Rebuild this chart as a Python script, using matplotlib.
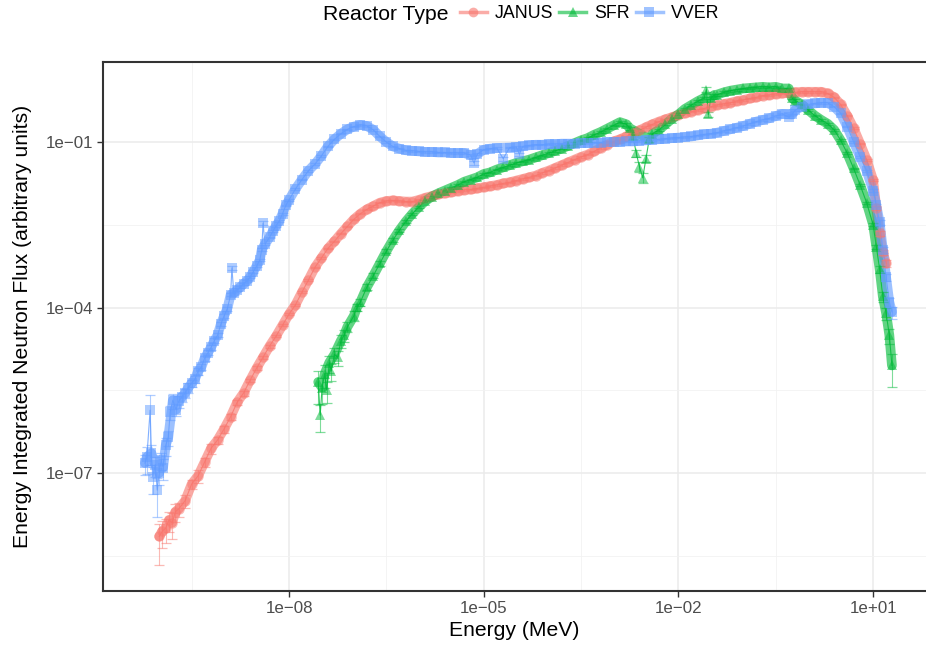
import numpy as np
import matplotlib
matplotlib.use("Agg")
import matplotlib.pyplot as plt
from matplotlib.lines import Line2D
from matplotlib.ticker import FixedLocator, FixedFormatter, NullFormatter

plt.rcParams['font.family'] = ['Liberation Sans', 'DejaVu Sans']

# values, kept as log10(energy / MeV) and log10(flux)
janus_log_e = [-10.0, -9.95, -9.9, -9.85, -9.8, -9.75, -9.7, -9.6, -9.5, -9.4,
               -9.3, -9.2, -9.1, -9.0, -8.9, -8.8, -8.7, -8.6, -8.5, -8.4,
               -8.3, -8.2, -8.1, -8.0, -7.9, -7.8, -7.7, -7.6, -7.5, -7.4,
               -7.3, -7.2, -7.1, -7.0, -6.9, -6.8, -6.7, -6.6, -6.5, -6.4,
               -6.3, -6.2, -6.1, -6.0, -5.9, -5.8, -5.7, -5.6, -5.5, -5.4,
               -5.3, -5.2, -5.1, -5.0, -4.9, -4.8, -4.7, -4.6, -4.5, -4.4,
               -4.3, -4.2, -4.1, -4.0, -3.9, -3.8, -3.7, -3.6, -3.5, -3.4,
               -3.3, -3.2, -3.1, -3.0, -2.9, -2.8, -2.7, -2.6, -2.5, -2.4,
               -2.3, -2.2, -2.1, -2.0, -1.9, -1.8, -1.7, -1.6, -1.5, -1.4,
               -1.3, -1.2, -1.1, -1.0, -0.9, -0.8, -0.7, -0.6, -0.5, -0.4,
               -0.3, -0.2, -0.1, 0.0, 0.1, 0.2, 0.3, 0.4, 0.5, 0.6,
               0.7, 0.8, 0.9, 1.0, 1.05, 1.1, 1.15, 1.2]
janus_log_flux = [-8.15, -8.05, -8.0, -7.85, -7.9, -7.7, -7.65, -7.5, -7.2, -7.05,
                  -6.8, -6.55, -6.4, -6.2, -5.98, -5.72, -5.55, -5.32, -5.1, -4.9,
                  -4.7, -4.52, -4.32, -4.12, -3.95, -3.72, -3.5, -3.27, -3.1, -2.93,
                  -2.8, -2.66, -2.53, -2.4, -2.3, -2.22, -2.16, -2.1, -2.07, -2.06,
                  -2.07, -2.08, -2.08, -2.05, -2.01, -1.98, -1.95, -1.93, -1.91, -1.89,
                  -1.87, -1.86, -1.84, -1.82, -1.8, -1.78, -1.75, -1.73, -1.7, -1.67,
                  -1.64, -1.61, -1.56, -1.52, -1.47, -1.42, -1.37, -1.32, -1.27, -1.23,
                  -1.17, -1.11, -1.05, -0.99, -0.95, -0.9, -0.84, -0.79, -0.73, -0.68,
                  -0.63, -0.59, -0.55, -0.51, -0.48, -0.45, -0.42, -0.39, -0.36, -0.33,
                  -0.31, -0.29, -0.26, -0.24, -0.21, -0.19, -0.16, -0.15, -0.13, -0.12,
                  -0.11, -0.1, -0.09, -0.09, -0.09, -0.09, -0.12, -0.19, -0.32, -0.52,
                  -0.75, -1.03, -1.32, -1.69, -2.2, -2.65, -3.0, -3.2]
janus_rel_err = [0.7, 0.5, 0.45, 0.4, 0.5, 0.35, 0.3, 0.25, 0.2, 0.25,
                 0.2, 0.2, 0.15, 0.15, 0.12, 0.1, 0.1, 0.08, 0.08, 0.06,
                 0.06, 0.05, 0.05, 0.04, 0.04, 0.03, 0.03, 0.03, 0.03, 0.03,
                 0.03, 0.03, 0.03, 0.03, 0.03, 0.03, 0.03, 0.03, 0.03, 0.03,
                 0.03, 0.03, 0.03, 0.03, 0.03, 0.03, 0.03, 0.03, 0.03, 0.03,
                 0.03, 0.03, 0.03, 0.03, 0.03, 0.03, 0.03, 0.03, 0.03, 0.03,
                 0.03, 0.03, 0.03, 0.03, 0.03, 0.03, 0.03, 0.03, 0.03, 0.03,
                 0.03, 0.03, 0.03, 0.03, 0.03, 0.03, 0.03, 0.03, 0.03, 0.03,
                 0.03, 0.03, 0.03, 0.03, 0.03, 0.03, 0.03, 0.03, 0.03, 0.03,
                 0.03, 0.03, 0.03, 0.03, 0.03, 0.03, 0.03, 0.03, 0.03, 0.03,
                 0.03, 0.03, 0.03, 0.03, 0.03, 0.03, 0.03, 0.03, 0.03, 0.03,
                 0.03, 0.03, 0.04, 0.05, 0.08, 0.1, 0.12, 0.15]
janus_outliers = []

sfr_log_e = [-7.55, -7.52, -7.49, -7.45, -7.42, -7.38, -7.35, -7.3, -7.25, -7.2,
             -7.15, -7.1, -7.0, -6.95, -6.9, -6.8, -6.7, -6.6, -6.5, -6.4,
             -6.3, -6.2, -6.1, -6.0, -5.9, -5.8, -5.7, -5.6, -5.5, -5.4,
             -5.3, -5.2, -5.1, -5.0, -4.9, -4.8, -4.7, -4.6, -4.5, -4.4,
             -4.3, -4.2, -4.1, -4.0, -3.9, -3.8, -3.7, -3.6, -3.5, -3.4,
             -3.3, -3.2, -3.1, -3.0, -2.9, -2.8, -2.75, -2.7, -2.65, -2.6,
             -2.55, -2.5, -2.45, -2.4, -2.3, -2.2, -2.1, -2.0, -1.9, -1.8,
             -1.7, -1.6, -1.57, -1.54, -1.5, -1.45, -1.4, -1.3, -1.2, -1.1,
             -1.0, -0.9, -0.8, -0.7, -0.6, -0.5, -0.4, -0.3, -0.25, -0.2,
             -0.1, 0.0, 0.1, 0.2, 0.3, 0.4, 0.5, 0.6, 0.7, 0.8,
             0.9, 1.0, 1.05, 1.1, 1.15, 1.2, 1.25, 1.29]
sfr_log_flux = [-5.35, -5.95, -5.45, -5.2, -5.5, -5.0, -5.15, -4.85, -4.9, -4.6,
                -4.5, -4.35, -4.15, -3.99, -3.9, -3.63, -3.42, -3.2, -2.98, -2.78,
                -2.6, -2.44, -2.3, -2.18, -2.07, -1.99, -1.93, -1.88, -1.83, -1.78,
                -1.72, -1.68, -1.64, -1.58, -1.55, -1.5, -1.46, -1.42, -1.38, -1.35,
                -1.32, -1.28, -1.24, -1.2, -1.16, -1.12, -1.07, -1.02, -0.97, -0.93,
                -0.87, -0.82, -0.76, -0.7, -0.64, -0.68, -0.75, -0.9, -1.2, -1.45,
                -1.65, -1.3, -0.95, -0.85, -0.78, -0.68, -0.58, -0.5, -0.4, -0.33,
                -0.26, -0.2, -0.05, -0.5, -0.2, -0.15, -0.14, -0.1, -0.07, -0.05,
                -0.03, -0.02, -0.01, 0.0, -0.01, 0.0, -0.03, -0.03, -0.2, -0.25,
                -0.32, -0.42, -0.52, -0.6, -0.67, -0.78, -0.97, -1.2, -1.48, -1.78,
                -2.1, -2.5, -2.9, -3.3, -3.8, -4.1, -4.5, -5.05]
sfr_rel_err = [0.6, 0.5, 0.5, 0.45, 0.4, 0.35, 0.35, 0.3, 0.3, 0.25,
               0.25, 0.2, 0.2, 0.15, 0.15, 0.12, 0.1, 0.1, 0.08, 0.08,
               0.06, 0.06, 0.05, 0.05, 0.04, 0.04, 0.04, 0.03, 0.03, 0.03,
               0.03, 0.03, 0.03, 0.03, 0.03, 0.03, 0.03, 0.03, 0.03, 0.03,
               0.03, 0.03, 0.03, 0.03, 0.03, 0.03, 0.03, 0.03, 0.03, 0.03,
               0.03, 0.03, 0.03, 0.03, 0.04, 0.05, 0.06, 0.1, 0.15, 0.2,
               0.2, 0.15, 0.1, 0.05, 0.04, 0.04, 0.04, 0.04, 0.04, 0.04,
               0.04, 0.04, 0.1, 0.12, 0.05, 0.04, 0.04, 0.04, 0.04, 0.04,
               0.04, 0.04, 0.04, 0.04, 0.04, 0.04, 0.04, 0.04, 0.05, 0.05,
               0.04, 0.04, 0.04, 0.04, 0.04, 0.04, 0.04, 0.04, 0.04, 0.05,
               0.05, 0.06, 0.1, 0.15, 0.2, 0.25, 0.3, 0.6]
# isolated points that stand apart from the main band
sfr_outliers = [-7.52, -7.42, -7.35, -7.25, -2.7, -2.65, -2.6, -2.55, -2.5, -1.57, -1.54]

vver_log_e = [-10.22, -10.19, -10.14, -10.12, -10.1, -10.06, -10.03, -10.0, -9.97, -9.94,
              -9.9, -9.86, -9.83, -9.79, -9.74, -9.7, -9.65, -9.6, -9.55, -9.5,
              -9.45, -9.4, -9.35, -9.3, -9.25, -9.2, -9.15, -9.1, -9.05, -9.0,
              -8.95, -8.9, -8.88, -8.85, -8.8, -8.75, -8.7, -8.65, -8.6, -8.55,
              -8.5, -8.45, -8.42, -8.4, -8.37, -8.3, -8.25, -8.2, -8.15, -8.1,
              -8.05, -8.0, -7.9, -7.8, -7.7, -7.6, -7.5, -7.4, -7.3, -7.2,
              -7.1, -7.0, -6.9, -6.8, -6.7, -6.6, -6.5, -6.4, -6.3, -6.2,
              -6.1, -6.0, -5.9, -5.8, -5.7, -5.6, -5.5, -5.4, -5.3, -5.2,
              -5.15, -5.1, -5.0, -4.9, -4.8, -4.7, -4.6, -4.5, -4.45, -4.4,
              -4.3, -4.2, -4.1, -4.0, -3.9, -3.8, -3.7, -3.6, -3.5, -3.4,
              -3.3, -3.2, -3.1, -3.0, -2.9, -2.8, -2.7, -2.6, -2.5, -2.4,
              -2.3, -2.2, -2.1, -2.0, -1.9, -1.8, -1.7, -1.6, -1.5, -1.4,
              -1.3, -1.2, -1.1, -1.0, -0.9, -0.8, -0.7, -0.6, -0.5, -0.4,
              -0.3, -0.25, -0.2, -0.1, 0.0, 0.1, 0.2, 0.3, 0.4, 0.5,
              0.6, 0.7, 0.8, 0.9, 1.0, 1.05, 1.1, 1.15, 1.2, 1.25, 1.29]
vver_log_flux = [-6.82, -6.71, -5.86, -6.64, -7.07, -6.85, -7.31, -7.0, -6.76, -6.9,
                 -6.5, -6.35, -5.89, -5.68, -5.85, -5.7, -5.62, -5.55, -5.45, -5.37,
                 -5.3, -5.15, -5.08, -4.92, -4.82, -4.72, -4.6, -4.5, -4.3, -4.15,
                 -4.02, -3.77, -3.28, -3.74, -3.68, -3.63, -3.57, -3.52, -3.45, -3.35,
                 -3.25, -3.14, -2.95, -2.47, -2.85, -2.73, -2.62, -2.52, -2.43, -2.3,
                 -2.15, -2.05, -1.85, -1.68, -1.52, -1.4, -1.25, -1.08, -0.95, -0.85,
                 -0.77, -0.72, -0.69, -0.71, -0.78, -0.9, -1.0, -1.08, -1.12, -1.15,
                 -1.16, -1.17, -1.18, -1.18, -1.19, -1.19, -1.2, -1.2, -1.2, -1.24,
                 -1.38, -1.22, -1.14, -1.12, -1.11, -1.3, -1.1, -1.09, -1.22, -1.08,
                 -1.06, -1.05, -1.05, -1.04, -1.04, -1.03, -1.03, -1.03, -1.02, -1.02,
                 -1.01, -1.01, -1.0, -1.0, -1.0, -0.99, -0.99, -0.98, -0.97, -0.96,
                 -0.95, -0.94, -0.93, -0.92, -0.91, -0.9, -0.88, -0.86, -0.85, -0.83,
                 -0.8, -0.77, -0.74, -0.71, -0.67, -0.63, -0.6, -0.57, -0.53, -0.49,
                 -0.55, -0.5, -0.42, -0.36, -0.32, -0.3, -0.29, -0.29, -0.36, -0.48,
                 -0.72, -1.0, -1.27, -1.52, -1.88, -2.15, -2.45, -2.95, -3.45, -3.9, -4.08]
vver_rel_err = [0.4, 0.5, 0.9, 0.4, 0.5, 0.4, 0.68, 0.4, 0.35, 0.4,
                0.35, 0.3, 0.3, 0.3, 0.25, 0.25, 0.2, 0.2, 0.2, 0.15,
                0.15, 0.15, 0.12, 0.12, 0.1, 0.1, 0.1, 0.08, 0.08, 0.08,
                0.08, 0.06, 0.1, 0.06, 0.06, 0.05, 0.05, 0.05, 0.05, 0.05,
                0.05, 0.05, 0.05, 0.08, 0.04, 0.04, 0.04, 0.04, 0.04, 0.04,
                0.04, 0.04, 0.04, 0.04, 0.04, 0.03, 0.03, 0.03, 0.03, 0.03,
                0.03, 0.03, 0.03, 0.03, 0.03, 0.03, 0.03, 0.03, 0.03, 0.03,
                0.03, 0.03, 0.03, 0.03, 0.03, 0.03, 0.03, 0.03, 0.03, 0.04,
                0.1, 0.04, 0.03, 0.03, 0.03, 0.08, 0.03, 0.03, 0.06, 0.03,
                0.03, 0.03, 0.03, 0.03, 0.03, 0.03, 0.03, 0.03, 0.03, 0.03,
                0.03, 0.03, 0.03, 0.03, 0.03, 0.03, 0.03, 0.03, 0.03, 0.03,
                0.03, 0.03, 0.03, 0.03, 0.03, 0.03, 0.03, 0.03, 0.03, 0.03,
                0.03, 0.03, 0.03, 0.03, 0.03, 0.03, 0.03, 0.03, 0.03, 0.03,
                0.04, 0.03, 0.03, 0.03, 0.03, 0.03, 0.03, 0.03, 0.03, 0.03,
                0.03, 0.03, 0.04, 0.05, 0.06, 0.08, 0.1, 0.12, 0.15, 0.2, 0.25]
vver_outliers = [-10.14, -10.1, -10.03, -9.83, -8.88, -8.4, -5.15, -4.7, -4.45, -0.3]

series_names = ["JANUS", "SFR", "VVER"]
series_colors = ["#F8766D", "#00BA38", "#619CFF"]
series_markers = ["o", "^", "s"]

x_ticks = [1e-8, 1e-5, 1e-2, 1e1]
x_tick_labels = ["1e\u221208", "1e\u221205", "1e\u221202", "1e+01"]
y_ticks = [1e-7, 1e-4, 1e-1]
y_tick_labels = ["1e\u221207", "1e\u221204", "1e\u221201"]

data = {
    "JANUS": (janus_log_e, janus_log_flux, janus_rel_err, janus_outliers),
    "SFR": (sfr_log_e, sfr_log_flux, sfr_rel_err, sfr_outliers),
    "VVER": (vver_log_e, vver_log_flux, vver_rel_err, vver_outliers),
}

fig = plt.figure(figsize=(9.26, 6.48), dpi=100)
ax = fig.add_axes([103 / 926, 1 - 591 / 648, 823 / 926, 529 / 648])

for name, color, marker in zip(series_names, series_colors, series_markers):
    log_e, log_f, rel, outs = data[name]
    e = 10.0 ** np.array(log_e)
    f = 10.0 ** np.array(log_f)
    err = f * np.array(rel)
    main = np.array([all(abs(x - o) > 1e-9 for o in outs) for x in log_e])
    # wide translucent stroke stands in for the densely packed points
    ax.plot(e[main], f[main], color=color, lw=7.0, alpha=0.62, solid_joinstyle="round",
            solid_capstyle="round", zorder=3)
    ax.plot(e, f, color=color, lw=0.8, alpha=0.8, zorder=3)
    ax.errorbar(e, f, yerr=err, fmt="none", ecolor=color, elinewidth=0.8,
                capsize=3.8, capthick=0.9, alpha=0.5, zorder=4)
    ax.plot(e, f, ls="none", marker=marker, ms=7.5, mew=0, color=color,
            alpha=0.5, zorder=5)

ax.set_xscale("log")
ax.set_yscale("log")
ax.set_xlim(10 ** -10.866, 10 ** 1.815)
ax.set_ylim(10 ** -9.138, 10 ** 0.45)

ax.xaxis.set_major_locator(FixedLocator(x_ticks))
ax.xaxis.set_major_formatter(FixedFormatter(x_tick_labels))
ax.xaxis.set_minor_locator(FixedLocator([10 ** -9.5, 10 ** -6.5, 10 ** -3.5, 10 ** -0.5]))
ax.xaxis.set_minor_formatter(NullFormatter())
ax.yaxis.set_major_locator(FixedLocator(y_ticks))
ax.yaxis.set_major_formatter(FixedFormatter(y_tick_labels))
ax.yaxis.set_minor_locator(FixedLocator([10 ** -8.5, 10 ** -5.5, 10 ** -2.5]))
ax.yaxis.set_minor_formatter(NullFormatter())

ax.grid(which="major", color="#EBEBEB", lw=1.1, zorder=0)
ax.grid(which="minor", color="#F2F2F2", lw=0.6, zorder=0)
ax.set_axisbelow(True)

for side in ["left", "bottom", "top"]:
    ax.spines[side].set_color("#333333")
    ax.spines[side].set_linewidth(1.5)
ax.spines["right"].set_visible(False)

ax.tick_params(which="major", length=4, width=1.0, color="#333333",
               labelcolor="#4D4D4D", labelsize=12.2, pad=3)
ax.tick_params(which="minor", length=0)

ax.set_xlabel("Energy (MeV)", fontsize=15.2, labelpad=4)
ax.set_ylabel("Energy Integrated Neutron Flux (arbitrary units)", fontsize=15.2, labelpad=10)

handles = [Line2D([0], [0], color=c, marker=m, ms=7, lw=2.5, alpha=0.6, mew=0)
           for c, m in zip(series_colors, series_markers)]
fig.text(323 / 926, 1 - 14 / 648, "Reactor Type", fontsize=15.2, ha="left", va="center")
fig.legend(handles, series_names, loc="center left", bbox_to_anchor=(460 / 926, 1 - 14 / 648),
           ncol=3, frameon=False, fontsize=12.8, handlelength=1.5, handletextpad=0.45,
           columnspacing=0.35, borderpad=0, borderaxespad=0)

fig.savefig("out.png", dpi=100)
